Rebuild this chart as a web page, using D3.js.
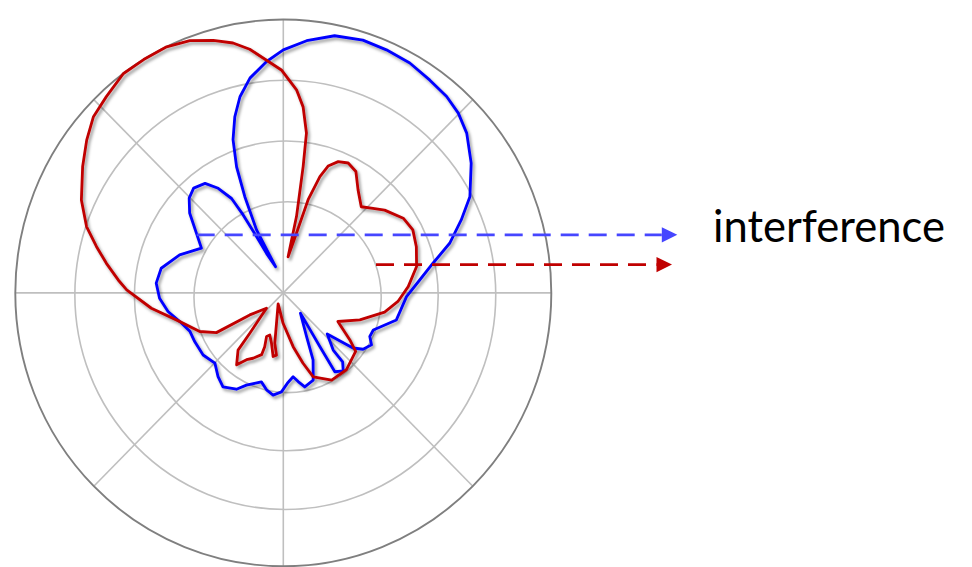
<!DOCTYPE html>
<html>
<head>
<meta charset="utf-8">
<script src="https://cdn.jsdelivr.net/npm/d3@7"></script>
<style>
  html, body { margin: 0; padding: 0; background: #ffffff; }
  svg { display: block; }
</style>
</head>
<body>
<svg id="chart" width="972" height="567"></svg>
<script>
// Radiation patterns: azimuth in degrees (clockwise from top), gain in dB
const blueAngles = [343.2, 336.6, 337.8, 339.3, 341.5, 344.3, 347.3, 351.0, 355.8, 0.0,
  5.4, 11.5, 17.8, 23.4, 29.3, 35.1, 40.3, 44.8, 49.5, 55.9,
  63.2, 68.1, 73.7, 79.0, 84.7, 91.7, 103.2, 112.0, 116.3, 120.0,
  124.7, 127.8, 132.5, 138.3, 138.7, 141.9, 146.3, 145.2, 139.2, 151.5,
  155.6, 160.7, 166.9, 170.3, 173.2, 177.4, 181.1, 185.8, 190.0, 194.1,
  202.2, 206.4, 213.2, 218.5, 224.8, 232.8, 241.7, 247.9, 254.8, 261.0,
  267.6, 274.3, 281.2, 289.8, 298.2, 304.0, 309.9, 314.6, 318.9, 323.9,
  327.6, 330.8, 332.3, 334.1, 336.6];
const blueGain = [-40.5, -33.7, -27.9, -22.8, -18.4, -14.9, -11.9, -9.2, -6.8, -5.0,
  -3.3, -1.8, -1.3, -1.4, -1.6, -2.2, -2.6, -3.3, -4.5, -6.9,
  -9.9, -12.8, -15.9, -19.4, -22.0, -24.3, -25.5, -28.7, -28.8, -27.9,
  -28.7, -30.2, -35.0, -32.4, -29.9, -28.7, -29.4, -34.3, -40.6, -36.8,
  -32.9, -29.8, -29.1, -30.2, -31.1, -30.1, -28.7, -28.1, -28.8, -29.9,
  -28.6, -27.3, -26.5, -27.4, -28.7, -28.1, -28.1, -28.1, -27.0, -25.4,
  -24.2, -23.6, -24.1, -26.5, -29.4, -27.4, -24.5, -22.8, -22.1, -22.7,
  -24.6, -27.2, -30.5, -34.7, -37.9];

const redAngles = [7.7, 12.7, 15.2, 17.8, 19.8, 23.1, 27.0, 31.4, 36.5, 42.7,
  47.3, 51.3, 58.6, 64.5, 71.2, 79.0, 87.2, 94.2, 100.5, 109.1,
  117.2, 124.7, 128.4, 140.1, 150.5, 160.0, 164.1, 169.4, 180.4, 205.7,
  192.9, 189.8, 186.4, 189.3, 193.5, 198.1, 201.4, 199.4, 199.7, 205.3,
  209.3, 213.5, 218.9, 220.3, 228.2, 237.2, 239.8, 245.6, 256.1, 263.5,
  271.1, 274.4, 279.3, 283.7, 288.3, 294.3, 301.7, 307.3, 312.3, 317.4,
  323.4, 328.6, 334.2, 339.3, 344.2, 348.4, 352.0, 355.8, 359.5, 3.8,
  6.2, 8.4, 9.1, 10.0];
const redGain = [-39.0, -34.9, -29.1, -24.9, -22.8, -21.5, -21.0, -21.6, -23.9, -25.7,
  -24.5, -23.2, -21.4, -20.9, -21.4, -22.2, -24.0, -25.7, -27.7, -31.4,
  -34.7, -31.4, -29.5, -28.5, -28.5, -30.3, -33.0, -36.0, -40.0, -43.0,
  -39.9, -36.6, -34.7, -34.4, -36.5, -37.7, -37.3, -35.6, -34.2, -33.1,
  -32.4, -30.8, -32.9, -36.3, -41.2, -38.3, -32.0, -29.6, -26.5, -22.7,
  -18.7, -17.2, -14.9, -12.7, -10.2, -7.8, -5.4, -3.5, -1.9, -1.1,
  0.0, 0.0, 0.0, -0.6, -1.8, -3.0, -4.5, -6.6, -8.3, -11.5,
  -14.2, -18.4, -23.9, -32.2];

// Grid: gain rings (dB) and azimuth spokes (degrees)
const ringTicks = [-30, -20, -10, 0];
const spokeAngles = [0, 45, 90, 135, 180, 225, 270, 315];
const gainDomain = [-45, 0];

const annotationText = "interference";

// ---- layout ----
const cx = 283.3, cy = 292.9;
const R = 268;
const yStretch = 1.02;
const ringBleed = [4.3, 3.0, 2.0, 0.0];   // inner rings drift slightly down-right
const blueColor = "#0000ff", redColor = "#c00000";

const svg = d3.select("#chart");
const rScale = d3.scaleLinear().domain(gainDomain).range([0, R]);
const toRad = d => d * Math.PI / 180;

// drop shadow for the pattern traces
const defs = svg.append("defs");
const shadow = defs.append("filter").attr("id", "shadow")
  .attr("x", "-10%").attr("y", "-10%").attr("width", "130%").attr("height", "130%");
shadow.append("feDropShadow")
  .attr("dx", 2).attr("dy", 2.5).attr("stdDeviation", 1.8)
  .attr("flood-color", "#000").attr("flood-opacity", 0.4);

const grid = svg.append("g");

// spokes
grid.selectAll("line.spoke").data(spokeAngles).join("line")
  .attr("class", "spoke")
  .attr("x1", cx).attr("y1", cy)
  .attr("x2", a => cx + R * Math.sin(toRad(a)))
  .attr("y2", a => cy - R * yStretch * Math.cos(toRad(a)))
  .attr("stroke", "#bfbfbf").attr("stroke-width", 1.6);

// rings
grid.selectAll("ellipse.ring").data(ringTicks).join("ellipse")
  .attr("class", "ring")
  .attr("cx", (t, i) => cx + ringBleed[i])
  .attr("cy", (t, i) => cy + ringBleed[i])
  .attr("rx", (t, i) => rScale(t) + ringBleed[i])
  .attr("ry", (t, i) => rScale(t) * yStretch + ringBleed[i])
  .attr("fill", "none")
  .attr("stroke", (t, i) => i === ringTicks.length - 1 ? "#7f7f7f" : "#bfbfbf")
  .attr("stroke-width", (t, i) => i === ringTicks.length - 1 ? 1.9 : 1.6);

// pattern traces
const series = [
  { color: blueColor, pts: blueAngles.map((a, i) => ({ a, g: blueGain[i] })) },
  { color: redColor,  pts: redAngles.map((a, i) => ({ a, g: redGain[i] })) }
];
const radial = d3.lineRadial()
  .angle(d => toRad(d.a))
  .radius(d => rScale(d.g))
  .curve(d3.curveLinearClosed);

const traces = svg.append("g").attr("filter", "url(#shadow)");
const inner = traces.append("g")
  .attr("transform", `translate(${cx},${cy}) scale(1,${yStretch})`);
inner.selectAll("path").data(series).join("path")
  .attr("d", s => radial(s.pts))
  .attr("fill", "none")
  .attr("stroke", s => s.color)
  .attr("stroke-width", 2.8)
  .attr("stroke-linejoin", "round");

// interference arrows
const arrows = [
  { color: "#4646ff", y: 234.8, x0: 196.7, tip: 677.3 },
  { color: redColor,  y: 264.6, x0: 376.0, tip: 672.0 }
];
const headLen = 15.5, headHalf = 7.6;
const ag = svg.append("g");
ag.selectAll("line").data(arrows).join("line")
  .attr("x1", d => d.x0).attr("x2", d => d.tip - headLen)
  .attr("y1", d => d.y).attr("y2", d => d.y)
  .attr("stroke", d => d.color).attr("stroke-width", 2.8)
  .attr("stroke-dasharray", "18,10");
ag.selectAll("path").data(arrows).join("path")
  .attr("d", d => `M${d.tip},${d.y} L${d.tip - headLen},${d.y - headHalf} L${d.tip - headLen},${d.y + headHalf} Z`)
  .attr("fill", d => d.color);

// label
const label = svg.append("text")
  .attr("x", 713).attr("y", 241.7)
  .attr("font-family", "Lato, 'Open Sans', sans-serif")
  .attr("font-size", 44)
  .attr("fill", "#000")
  .text(annotationText);
const w = label.node().getComputedTextLength();
if (w > 0) label.attr("font-size", 44 * 232 / w);
</script>
</body>
</html>
